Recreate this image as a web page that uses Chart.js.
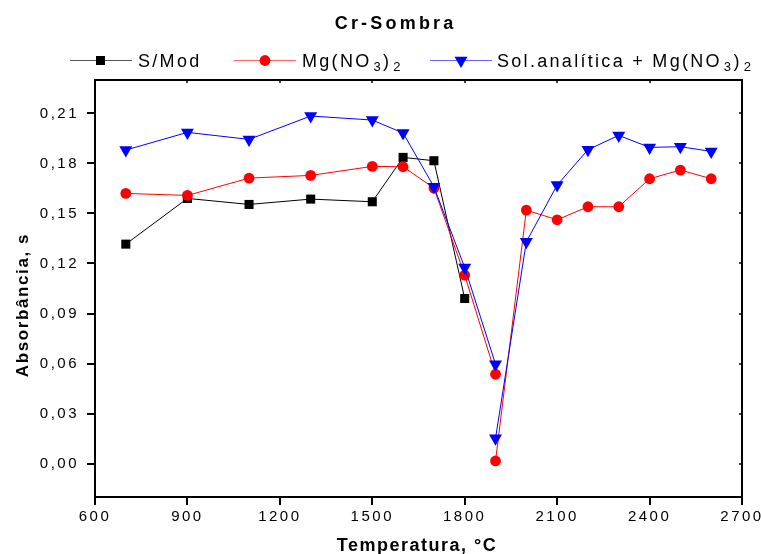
<!DOCTYPE html>
<html>
<head>
<meta charset="utf-8">
<script src="https://cdn.jsdelivr.net/npm/chart.js@4.4.0/dist/chart.umd.min.js"></script>
<style>
html, body { margin: 0; padding: 0; background: #fff; }
</style>
</head>
<body>
<canvas id="myChart" width="761" height="554"></canvas>
<script>
var FONT = '"Liberation Sans", Arial, sans-serif';

var xTicks = [600, 900, 1200, 1500, 1800, 2100, 2400, 2700];
var yTicks = [0, 0.03, 0.06, 0.09, 0.12, 0.15, 0.18, 0.21];

var tempSMod = [700, 900, 1100, 1300, 1500, 1600, 1700, 1800];
var sMod     = [0.1316, 0.159, 0.1554, 0.1586, 0.157, 0.1836, 0.1816, 0.099];

// two readings at 1900, not joined -> null splits the line
var tempMg = [700, 900, 1100, 1300, 1500, 1600, 1700, 1800, 1900, 1900, 1900, 2000, 2100, 2200, 2300, 2400, 2500, 2600];
var mgNO3  = [0.162, 0.1608, 0.1712, 0.1728, 0.1782, 0.178, 0.1652, 0.113, 0.0536, null, 0.0016, 0.152, 0.1462, 0.154, 0.154, 0.1708, 0.176, 0.1708];
var solMg  = [0.188, 0.1986, 0.1944, 0.2084, 0.206, 0.1982, 0.166, 0.1176, 0.0596, null, 0.0152, 0.133, 0.167, 0.1882, 0.1968, 0.1896, 0.19, 0.1872];

function pts(xs, ys) {
  return xs.map(function (x, i) { return {x: x, y: ys[i]}; });
}

function fmtY(v) { return v.toFixed(2).replace('.', ','); }

// text pieces with subscripts
function richText(ctx, parts, x, y) {
  parts.forEach(function (p) {
    if (p.sub) x += 2;
    ctx.font = (p.sub ? '13px ' : '18px ') + FONT;
    ctx.fillText(p.t, x, p.sub ? y + 4.5 : y);
    x += ctx.measureText(p.t).width;
  });
}

var decor = {
  id: 'decor',
  beforeDraw: function (chart) {
    chart.ctx.letterSpacing = '2.5px';
  },
  afterDraw: function (chart) {
    var ctx = chart.ctx, a = chart.chartArea;
    var sx = chart.scales.x, sy = chart.scales.y;
    ctx.save();
    // frame
    ctx.strokeStyle = '#000';
    ctx.lineWidth = 2;
    ctx.strokeRect(a.left, a.top, a.right - a.left, a.bottom - a.top);
    // small inner ticks on top and right
    ctx.lineWidth = 1.5;
    ctx.beginPath();
    xTicks.forEach(function (v) {
      var px = Math.round(sx.getPixelForValue(v));
      ctx.moveTo(px, a.top); ctx.lineTo(px, a.top + 3);
    });
    yTicks.forEach(function (v) {
      var py = Math.round(sy.getPixelForValue(v));
      ctx.moveTo(a.right, py); ctx.lineTo(a.right - 3, py);
    });
    ctx.stroke();

    ctx.fillStyle = '#000';
    ctx.textBaseline = 'alphabetic';

    // title
    ctx.letterSpacing = '3.2px';
    ctx.font = 'bold 18px ' + FONT;
    ctx.textAlign = 'center';
    ctx.fillText('Cr-Sombra', 395.6, 29);

    // axis titles
    ctx.letterSpacing = '1.5px';
    ctx.font = 'bold 18px ' + FONT;
    ctx.fillText('Temperatura, °C', 417, 551);
    ctx.save();
    ctx.translate(28, 305);
    ctx.rotate(-Math.PI / 2);
    ctx.letterSpacing = '1.6px';
    ctx.font = 'bold 17px ' + FONT;
    ctx.fillText('Absorbância, s', 0, 0);
    ctx.restore();

    // legend
    ctx.textAlign = 'left';
    ctx.letterSpacing = '2.3px';
    var items = [
      {x0: 70, x1: 132, mx: 100.5, color: '#000000', line: '#555555', style: 'rect', r: 6.4, rot: 0,
       tx: 138, parts: [{t: 'S/Mod'}]},
      {x0: 234, x1: 296, mx: 265, color: '#ff0000', line: '#ff6666', style: 'circle', r: 5.4, rot: 0,
       tx: 302, parts: [{t: 'Mg(NO'}, {t: '3', sub: true}, {t: ')'}, {t: '2', sub: true}]},
      {x0: 430, x1: 492, mx: 461, color: '#0000ff', line: '#6666ff', style: 'triangle', r: 7.5, rot: 180,
       tx: 497, parts: [{t: 'Sol.analítica + Mg(NO'}, {t: '3', sub: true}, {t: ')'}, {t: '2', sub: true}]}
    ];
    items.forEach(function (it) {
      ctx.strokeStyle = it.line;
      ctx.lineWidth = 1;
      ctx.beginPath();
      ctx.moveTo(it.x0, 60.5); ctx.lineTo(it.x1, 60.5);
      ctx.stroke();
      ctx.fillStyle = it.color;
      Chart.helpers.drawPoint(ctx, {pointStyle: it.style, radius: it.r, rotation: it.rot, borderWidth: 0}, it.mx, 60.5);
      ctx.fillStyle = '#000';
      richText(ctx, it.parts, it.tx, 66.5);
    });
    ctx.restore();
  }
};

var ctx = document.getElementById('myChart').getContext('2d');
var myChart = new Chart(ctx, {
  type: 'line',
  data: {
    datasets: [
      {label: 'S/Mod', data: pts(tempSMod, sMod), borderColor: '#000000', backgroundColor: '#000000',
       borderWidth: 1, pointStyle: 'rect', pointRadius: 6.4, pointBorderWidth: 0, order: 2},
      {label: 'Mg(NO3)2', data: pts(tempMg, mgNO3), borderColor: '#ff0000', backgroundColor: '#ff0000',
       borderWidth: 1, pointStyle: 'circle', pointRadius: 5.4, pointBorderWidth: 0, order: 1},
      {label: 'Sol.analítica + Mg(NO3)2', data: pts(tempMg, solMg), borderColor: '#0000ff', backgroundColor: '#0000ff',
       borderWidth: 1, pointStyle: 'triangle', pointRotation: 180, pointRadius: 7.5, pointBorderWidth: 0, order: 0}
    ]
  },
  options: {
    responsive: false,
    animation: false,
    events: [],
    layout: {padding: {top: 80, right: 19, bottom: 0, left: 0}},
    elements: {line: {tension: 0}},
    plugins: {legend: {display: false}, title: {display: false}, tooltip: {enabled: false}},
    scales: {
      x: {
        type: 'linear', min: 600, max: 2700,
        afterBuildTicks: function (s) { s.ticks = xTicks.map(function (v) { return {value: v}; }); },
        afterFit: function (s) { s.height = 57; s.paddingLeft = 0; s.paddingRight = 0; },
        border: {display: false},
        grid: {drawOnChartArea: false, drawTicks: true, tickLength: 8, lineWidth: 2, color: '#000'},
        ticks: {padding: 3, color: '#000', font: {family: FONT, size: 15}, maxRotation: 0, autoSkip: false,
                callback: function (v) { return String(v); }}
      },
      y: {
        type: 'linear', min: -0.02, max: 0.23,
        afterBuildTicks: function (s) { s.ticks = yTicks.map(function (v) { return {value: v}; }); },
        afterFit: function (s) { s.width = 95; s.paddingTop = 0; s.paddingBottom = 0; },
        border: {display: false},
        grid: {drawOnChartArea: false, drawTicks: true, tickLength: 8, lineWidth: 2, color: '#000'},
        ticks: {padding: 8, color: '#000', font: {family: FONT, size: 15}, autoSkip: false,
                callback: function (v) { return fmtY(v); }}
      }
    }
  },
  plugins: [decor]
});
</script>
</body>
</html>
